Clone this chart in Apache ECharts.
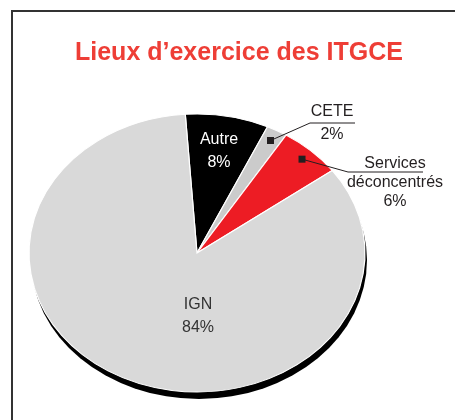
<!DOCTYPE html>
<html>
<head>
<meta charset="utf-8">
<script src="https://cdn.jsdelivr.net/npm/echarts@6/dist/echarts.min.js"></script>
<style>
  html, body { margin: 0; background: #fff; }
  #chart { width: 455px; height: 420px; }
</style>
</head>
<body>
<div id="chart"></div>
<script>
// data
const categories = ['Autre', 'CETE', 'Services\ndéconcentrés', 'IGN'];
const shares = [8, 2, 6, 84];

// look
const sliceColors = ['#000000', '#cbcbcb', '#ed1c24', '#d9d9d9'];
const pieCenter = [197, 253];
const radiusY = 139;
const stretchX = 168 / 139; // the pie is drawn as an ellipse
const startDeg = 94;        // like pie startAngle: anticlockwise from 3 o'clock
const font = '"Liberation Sans", Arial, sans-serif';

// label placement, relative to the pie centre
const labelLayout = [
  { x: 22, y: -113, lineHeight: 23, color: '#ffffff' },
  { x: 135, y: -141, lineHeight: 23, color: '#231f20', elbow: [113, -130], lineEnd: 158 },
  { x: 198, y: -89, lineHeight: 19, color: '#231f20', elbow: [151, -81], lineEnd: 226 },
  { x: 1, y: 52, lineHeight: 23, color: '#333333' }
];

const total = shares.reduce((a, b) => a + b, 0);
const before = shares.map((v, i) => shares.slice(0, i).reduce((a, b) => a + b, 0));
const rad = (d) => d * Math.PI / 180;

const chart = echarts.init(document.getElementById('chart'));

chart.setOption({
  animation: false,
  title: {
    text: 'Lieux d\u2019exercice des ITGCE',
    left: 70,
    top: 36,
    textStyle: {
      fontFamily: font,
      fontWeight: 'bold',
      fontSize: 25,
      color: '#ee3e36'
    }
  },
  graphic: [
    {
      // frame
      type: 'rect',
      shape: { x: 12, y: 11, width: 600, height: 600 },
      style: { fill: 'none', stroke: '#333', lineWidth: 2 },
      silent: true
    }
  ],
  series: [
    {
      type: 'custom',
      coordinateSystem: 'none',
      data: shares.map((v, i) => [v, i]),
      renderItem: function (params, api) {
        const i = params.dataIndex;
        const value = api.value(0);
        const a0 = -rad(startDeg) + before[i] / total * Math.PI * 2;
        const a1 = a0 + value / total * Math.PI * 2;
        const mid = (a0 + a1) / 2;
        const cx = pieCenter[0];
        const cy = pieCenter[1];
        const lay = labelLayout[i];
        const children = [];

        if (i === 0) {
          // drop shadow under the whole pie
          children.push({
            type: 'circle',
            x: cx + 2,
            y: cy + 7,
            scaleX: stretchX,
            shape: { cx: 0, cy: 0, r: radiusY },
            style: { fill: '#000' },
            z2: -10
          });
        }

        children.push({
          type: 'sector',
          x: cx,
          y: cy,
          scaleX: stretchX,
          shape: { cx: 0, cy: 0, r0: 0, r: radiusY, startAngle: a0, endAngle: a1, clockwise: true },
          style: { fill: sliceColors[i], stroke: '#fff', lineWidth: 1 }
        });

        if (lay.elbow) {
          const mx = cx + Math.cos(mid) * radiusY * 0.92 * stretchX;
          const my = cy + Math.sin(mid) * radiusY * 0.92;
          const ex = cx + lay.elbow[0];
          const ey = cy + lay.elbow[1];
          children.push({
            type: 'polyline',
            shape: { points: [[mx, my], [ex, ey], [cx + lay.lineEnd, ey]] },
            style: { fill: 'none', stroke: '#231f20', lineWidth: 1 },
            z2: 10
          });
          children.push({
            type: 'rect',
            shape: { x: mx - 3.5, y: my - 3.5, width: 7, height: 7 },
            style: { fill: '#231f20' },
            z2: 11
          });
        }

        children.push({
          type: 'text',
          style: {
            text: categories[i] + '\n' + value + '%',
            x: cx + lay.x,
            y: cy + lay.y - lay.lineHeight / 2,
            align: 'center',
            verticalAlign: 'top',
            fill: lay.color,
            font: '16px ' + font,
            lineHeight: lay.lineHeight
          },
          z2: 12
        });

        return { type: 'group', children: children };
      }
    }
  ]
});
</script>
</body>
</html>
